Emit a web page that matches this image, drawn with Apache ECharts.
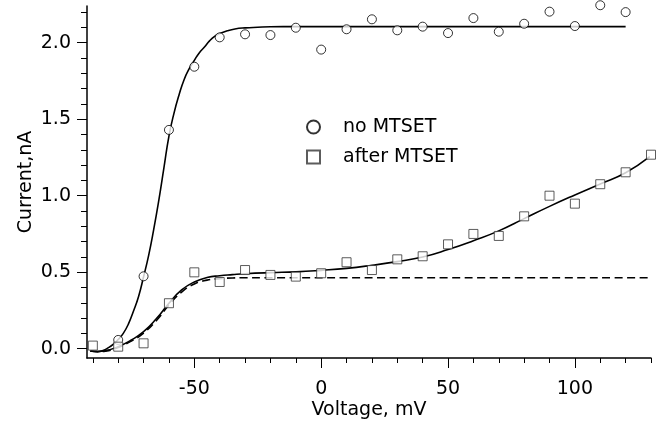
<!DOCTYPE html>
<html>
<head>
<meta charset="utf-8">
<script src="https://cdn.jsdelivr.net/npm/echarts@6/dist/echarts.min.js"></script>
<style>
  html, body { margin: 0; padding: 0; background: #fff; }
  #chart-box { width: 664px; height: 428px; }
</style>
</head>
<body>
<div id="chart-box"></div>
<script>
// measured points
const noMtsetV = [-80, -70, -60, -50, -40, -30, -20, -10, 0, 10, 20, 30, 40, 50, 60, 70, 80, 90, 100, 110, 120]
const noMtsetI = [0.057, 0.473, 1.43, 1.843, 2.035, 2.055, 2.05, 2.098, 1.955, 2.088, 2.153, 2.081, 2.105, 2.063, 2.161, 2.072, 2.124, 2.203, 2.109, 2.245, 2.2]
const afterV = [-90, -80, -70, -60, -50, -40, -30, -20, -10, 0, 10, 20, 30, 40, 50, 60, 70, 80, 90, 100, 110, 120, 130]
const afterI = [0.02, 0.013, 0.035, 0.297, 0.499, 0.436, 0.514, 0.482, 0.471, 0.493, 0.565, 0.514, 0.584, 0.604, 0.682, 0.75, 0.737, 0.865, 1.0, 0.948, 1.075, 1.153, 1.268]

// fitted curves
const fitNoV = [-91, -88, -86, -84, -82, -80, -78, -76, -74, -72, -70, -68, -66, -64, -62, -60, -58, -56, -54, -52, -50, -48, -46, -44, -42, -40, -37, -34, -30, -25, -20, -10, 0, 120]
const fitNoI = [-0.015, -0.02, -0.012, 0.005, 0.028, 0.06, 0.1, 0.16, 0.245, 0.34, 0.47, 0.61, 0.78, 0.97, 1.18, 1.39, 1.54, 1.66, 1.76, 1.83, 1.885, 1.935, 1.972, 2.012, 2.042, 2.06, 2.078, 2.09, 2.097, 2.101, 2.104, 2.105, 2.105, 2.105]
const fitAfterV = [-91, -88, -85, -80, -75, -70, -65, -60, -55, -50, -45, -40, -35, -30, -20, -10, 0, 10, 20, 30, 40, 50, 60, 70, 80, 90, 100, 110, 120, 129.5]
const fitAfterI = [-0.015, -0.018, -0.013, 0.013, 0.055, 0.111, 0.195, 0.297, 0.384, 0.436, 0.465, 0.477, 0.484, 0.49, 0.497, 0.502, 0.512, 0.525, 0.545, 0.569, 0.599, 0.648, 0.706, 0.77, 0.85, 0.93, 1.005, 1.077, 1.15, 1.255]
const fitDashV = [-91, -88, -85, -80, -75, -70, -65, -60, -55, -50, -45, -40, -35, -30, -20, 130]
const fitDashI = [-0.015, -0.02, -0.016, 0.008, 0.048, 0.102, 0.183, 0.285, 0.37, 0.423, 0.448, 0.458, 0.462, 0.464, 0.464, 0.464]

// ticks
const xMajorTicks = [-50, 0, 50, 100]
const xMinorTicks = [-90, -80, -70, -60, -50, -40, -30, -20, -10, 0, 10, 20, 30, 40, 50, 60, 70, 80, 90, 100, 110, 120, 130]
const yMajorTicks = [0, 0.5, 1, 1.5, 2]
const yMinorTicks = [0, 0.1, 0.2, 0.3, 0.4, 0.5, 0.6, 0.7, 0.8, 0.9, 1, 1.1, 1.2, 1.3, 1.4, 1.5, 1.6, 1.7, 1.8, 1.9, 2, 2.1, 2.2]

const pairs = (xs, ys) => xs.map((x, i) => [x, ys[i]])
const font = 'DejaVu Sans'
const X_MIN = -92.3, X_MAX = 130, Y_MIN = -0.061, Y_MAX = 2.24

const baseAxis = (min, max) => ({
  type: 'value', min: min, max: max,
  splitLine: { show: false },
  axisLine: { onZero: false, lineStyle: { color: '#000', width: 1.5 } }
})

const fitLine = (name, xs, ys, dash) => ({
  name: name, type: 'line', data: pairs(xs, ys),
  smooth: 0.5, showSymbol: false, silent: true,
  lineStyle: { color: '#000', width: 1.6, type: dash || 'solid' }, z: 2
})

const options = {
  animation: false,
  backgroundColor: '#fff',
  textStyle: { fontFamily: font, color: '#000' },
  grid: { left: 87, right: 13, top: 6, bottom: 70, containLabel: false },
  legend: {
    orient: 'vertical', left: 306, top: 117, padding: 0,
    itemWidth: 13, itemHeight: 13, itemGap: 10,
    textStyle: { fontFamily: font, fontSize: 19, color: '#000', lineHeight: 20, padding: [0, 0, 0, 18] },
    data: [{ name: 'no MTSET', icon: 'circle' }, { name: 'after MTSET', icon: 'rect' }]
  },
  xAxis: [
    Object.assign(baseAxis(X_MIN, X_MAX), {
      position: 'bottom',
      axisTick: { customValues: xMinorTicks, length: 5, lineStyle: { color: '#000', width: 1 } },
      axisLabel: { show: false }
    }),
    Object.assign(baseAxis(X_MIN, X_MAX), {
      position: 'bottom',
      axisLine: { show: false, onZero: false },
      axisTick: { customValues: xMajorTicks, length: 10, lineStyle: { color: '#000', width: 1 } },
      axisLabel: { customValues: xMajorTicks, margin: 22, fontSize: 19, fontFamily: font, color: '#000' },
      name: 'Voltage, mV', nameLocation: 'middle', nameGap: 43, nameMoveOverlap: false,
      nameTextStyle: { fontSize: 19, fontFamily: font, color: '#000' }
    })
  ],
  yAxis: [
    Object.assign(baseAxis(Y_MIN, Y_MAX), {
      position: 'left',
      axisTick: { customValues: yMinorTicks, length: 6, lineStyle: { color: '#000', width: 1 } },
      axisLabel: { show: false }
    }),
    Object.assign(baseAxis(Y_MIN, Y_MAX), {
      position: 'left',
      axisLine: { show: false, onZero: false },
      axisTick: { customValues: yMajorTicks, length: 10, lineStyle: { color: '#000', width: 1 } },
      axisLabel: { customValues: yMajorTicks, margin: 16, fontSize: 19, fontFamily: font, color: '#000',
        formatter: v => v.toFixed(1) },
      name: 'Current,nA', nameLocation: 'middle', nameGap: 51, nameMoveOverlap: false,
      nameTextStyle: { fontSize: 19, fontFamily: font, color: '#000' }
    })
  ],
  series: [
    fitLine('fit no', fitNoV, fitNoI),
    fitLine('fit after', fitAfterV, fitAfterI),
    fitLine('fit dash', fitDashV, fitDashI, [8, 4.5]),
    { name: 'no MTSET', type: 'scatter', data: pairs(noMtsetV, noMtsetI), symbol: 'circle', symbolSize: 9, clip: false,
      itemStyle: { color: '#fff', borderColor: '#000', borderWidth: 1 }, z: 3 },
    { name: 'after MTSET', type: 'scatter', data: pairs(afterV, afterI), symbol: 'rect', symbolSize: 9, clip: false,
      itemStyle: { color: '#fff', borderColor: '#333', borderWidth: 1 }, z: 3 }
  ]
}

const myChart = echarts.init(document.getElementById('chart-box'))
myChart.setOption(options)
</script>
</body>
</html>
